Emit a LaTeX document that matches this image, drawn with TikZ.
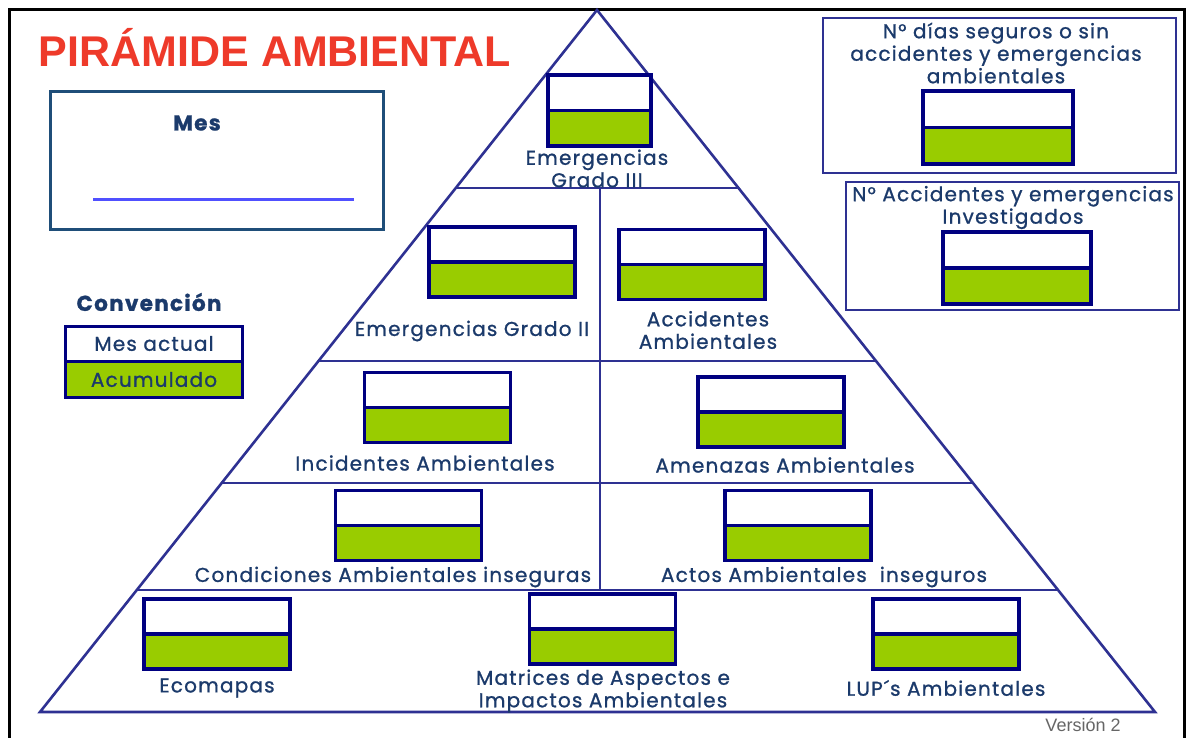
\documentclass[tikz,border=0pt]{standalone}
\usepackage{fontspec}
\setmainfont{Poppins}
\newfontfamily\lblfont{Poppins}[LetterSpace=6, FakeBold=1]
\newfontfamily\titlefont{Liberation Sans}
\usetikzlibrary{calc}
\definecolor{pyr}{HTML}{2E3192}
\definecolor{navy}{HTML}{000080}
\definecolor{boxgreen}{HTML}{99CC00}
\definecolor{txt}{HTML}{1B3A6B}
\definecolor{mesframe}{HTML}{1F4E79}
\definecolor{titlered}{HTML}{EE3A2A}
\tikzset{
  pyrline/.style={draw=pyr, line width=2.6pt},
  counter/.style={draw=navy, line width=3.4pt, fill=white,
    minimum width=146pt, minimum height=70pt, inner sep=0pt,
    path picture={
      \fill[boxgreen] (path picture bounding box.west) rectangle (path picture bounding box.south east);
      \draw[navy, line width=3.4pt] (path picture bounding box.west) -- (path picture bounding box.east);
    }},
  lbl/.style={text=txt, font=\lblfont\fontsize{20}{22.5}\selectfont, align=center, inner sep=0pt},
  boldlbl/.style={lbl, font=\lblfont\bfseries\fontsize{21.5}{24}\selectfont},
  frame/.style={draw=pyr, line width=2.6pt},
}
\begin{document}
\begin{tikzpicture}[x=1pt,y=-1pt]
\useasboundingbox (0,0) rectangle (1188,737);
\fill[white] (0,0) rectangle (1188,737);
\begin{scope}
\clip (0,0) rectangle (1188,737);
\draw[black, line width=3pt] (9,9) rectangle (1184,760);
\end{scope}

% pyramid outline and tiers
\coordinate (apex) at (597,10);
\coordinate (bl) at (40,712);
\coordinate (br) at (1155,712);
\draw[pyrline, line join=miter] (bl) -- (apex) -- (br) -- cycle;
\foreach \y/\n in {188/a,361/b,483/c,590/d}{
  \coordinate (L\n) at ($(apex)!{(\y-10)/702}!(bl)$);
  \coordinate (R\n) at ($(apex)!{(\y-10)/702}!(br)$);
  \draw[pyrline] (L\n) -- (R\n);
}
\coordinate (vtop) at (600,188);
\coordinate (vbot) at (600,590);
\draw[pyrline] (vtop) -- (vbot);

% title
\node[text=titlered, font=\titlefont\bfseries\fontsize{43}{43}\selectfont, inner sep=0pt] (title) at (275,47) {PIRÁMIDE AMBIENTAL};

% month box
\node[draw=mesframe, line width=3pt, minimum width=333pt, minimum height=138pt, inner sep=0pt] (mesbox) at (217,160.5) {};
\node[boldlbl] (mes) at (197,123) {Mes};
\coordinate (m1) at (93,199);
\coordinate (m2) at (354,199);
\draw[color={rgb,255:red,80;green,80;blue,255}, line width=3pt] (m1) -- (m2);

% legend
\node[boldlbl] (conv) at (149,302) {Convención};
\node[draw=navy, line width=3pt, fill=white, minimum width=177pt, minimum height=35pt, inner sep=0pt] (actual) at (154,343.5) {};
\node[draw=navy, line width=3pt, fill=boxgreen, minimum width=177pt, minimum height=36pt, inner sep=0pt] (acum) at (154,379.5) {};
\node[lbl] at (actual) {Mes actual};
\node[lbl] at (acum) {Acumulado};

% counters inside the pyramid
\node[counter, minimum width=103pt, minimum height=71pt] (c1) at (599.5,110.5) {};
\node[counter] (c2) at (502,262) {};
\node[counter] (c3) at (692,264.5) {};
\node[counter] (c4) at (437.5,407.5) {};
\node[counter] (c5) at (771,412) {};
\node[counter] (c6) at (408.5,525.5) {};
\node[counter] (c7) at (798,525.5) {};
\node[counter] (c8) at (217,634) {};
\node[counter] (c9) at (602.5,629) {};
\node[counter] (c10) at (946,634) {};

\node[lbl] (t1) at (597,168.5) {Emergencias\\Grado III};
\node[lbl] (t2) at (472,331) {Emergencias Grado II};
\node[lbl] (t3) at (708,330) {Accidentes\\Ambientales};
\node[lbl] (t4) at (425,463) {Incidentes Ambientales};
\node[lbl] (t5) at (785,465) {Amenazas Ambientales};
\node[lbl] (t6) at (393,577) {Condiciones Ambientales inseguras};
\node[lbl] (t7) at (824,577) {Actos Ambientales\ \ inseguros};
\node[lbl] (t8) at (217,688) {Ecomapas};
\node[lbl] (t9) at (603,691) {Matrices de Aspectos e\\Impactos Ambientales};
\node[lbl] (t10) at (946,688) {LUP´s Ambientales};

% indicator panels on the right
\node[frame, minimum width=353pt, minimum height=155pt, inner sep=0pt] (p1) at (999.5,95.5) {};
\node[lbl] (p1t) at (996,53) {N° días seguros o sin\\accidentes y emergencias\\ambientales};
\node[counter, minimum width=150pt, minimum height=73pt] (p1c) at (998,127.5) {};

\node[frame, minimum width=333pt, minimum height=128pt, inner sep=0pt] (p2) at (1012.5,246) {};
\node[lbl] (p2t) at (1013,207.5) {N° Accidentes y emergencias\\Investigados};
\node[counter, minimum width=148pt, minimum height=72pt] (p2c) at (1017,268) {};

% version
\node[text=black!60, font=\titlefont\fontsize{18}{18}\selectfont, inner sep=0pt] (ver) at (1083,725) {Versión 2};
\end{tikzpicture}
\end{document}
